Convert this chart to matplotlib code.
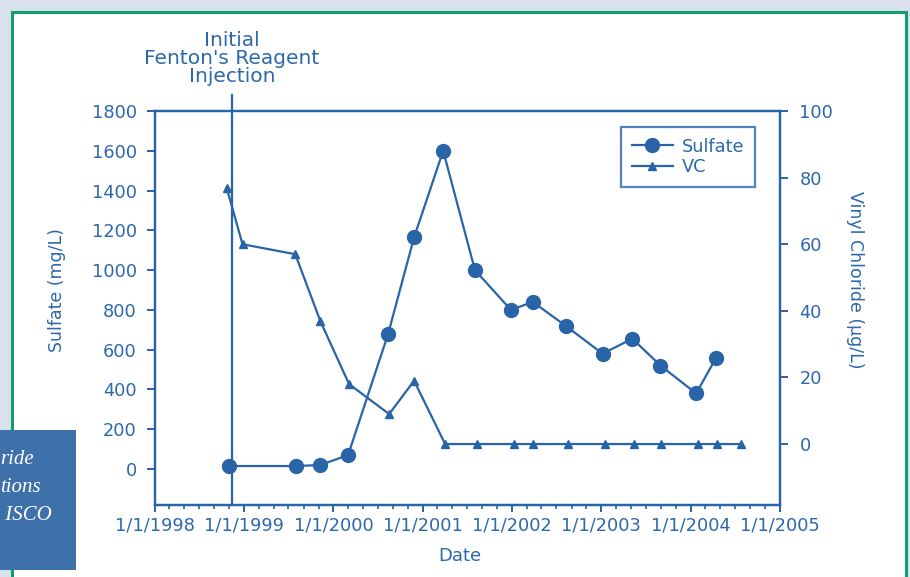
import pandas as pd
import matplotlib
matplotlib.use('Agg')
from matplotlib import pyplot as plt
import matplotlib.dates as mdates
from matplotlib.patches import Rectangle
from matplotlib.ticker import FuncFormatter
from matplotlib.lines import Line2D

# data
sulfate_dates = ['1998-10-29', '1999-08-02', '1999-11-08', '2000-03-01', '2000-08-12',
                 '2000-11-26', '2001-03-25', '2001-08-02', '2001-12-27', '2002-03-27',
                 '2002-08-08', '2003-01-06', '2003-05-08', '2003-08-31', '2004-01-24',
                 '2004-04-15']
sulfate = [15, 15, 20, 70, 680, 1165, 1600, 1000, 800, 840, 720, 580, 655, 520, 380, 560]

vc_dates = ['1998-10-21', '1998-12-25', '1999-07-29', '1999-11-08', '2000-03-05',
            '2000-08-16', '2000-11-26', '2001-04-02', '2001-08-10', '2002-01-08',
            '2002-03-27', '2002-08-16', '2003-01-14', '2003-05-16', '2003-09-04',
            '2004-02-01', '2004-04-19', '2004-07-26']
vc = [77, 60, 57, 37, 18, 9, 19, 0, 0, 0, 0, 0, 0, 0, 0, 0, 0, 0]

injection_date = '1998-11-10'
injection_text = ['Initial', "Fenton's Reagent", 'Injection']
sidebar_text = ['ride', 'tions', ' ISCO']

blue = '#2964a8'
txt = '#2d68ad'
plt.rcParams['font.family'] = ['DejaVu Sans']

fig = plt.figure(figsize=(9.1, 5.77), dpi=100)
fig.patch.set_facecolor('#dae1ed')
fig.patches.append(Rectangle((12/910, -0.02), (906-12)/910, 1-12/577+0.02,
                             transform=fig.transFigure, facecolor='white',
                             edgecolor='#119f6d', linewidth=2.2, zorder=-2))
fig.patches.append(Rectangle((-0.01, 1-570/577), 76/910+0.01, 140/577,
                             transform=fig.transFigure, facecolor='#3e71aa',
                             edgecolor='none', zorder=-1))
for i, s in enumerate(sidebar_text):
    fig.text(0/910, 1-(460+28*i)/577, s, color='white', fontsize=15, style='italic',
             family='Liberation Serif', va='center', ha='left', zorder=2)

ax = fig.add_axes([155/910, 1-505/577, (780-155)/910, (505-111)/577])
ax2 = ax.twinx()

sd = pd.to_datetime(sulfate_dates)
vd = pd.to_datetime(vc_dates)
ax.plot(sd, sulfate, color=blue, lw=1.6, marker='o', ms=10, label='Sulfate')
ax2.plot(vd, vc, color=blue, lw=1.6, marker='^', ms=6, label='VC')

ax.set_xlim(pd.Timestamp('1998-01-01'), pd.Timestamp('2005-01-01'))
ax.set_ylim(-181, 1800)
ax2.set_ylim(-18.3, 100)
ax.set_yticks(range(0, 1801, 200))
ax2.set_yticks(range(0, 101, 20))

ax.xaxis.set_major_locator(mdates.YearLocator())
ax.xaxis.set_minor_locator(mdates.MonthLocator(bymonth=[3, 5, 7, 9, 11]))
ax.xaxis.set_major_formatter(FuncFormatter(
    lambda v, p: '%d/%d/%d' % (mdates.num2date(v).month, mdates.num2date(v).day, mdates.num2date(v).year)))

for a in (ax, ax2):
    for sp in a.spines.values():
        sp.set_color(blue)
        sp.set_linewidth(1.6)
ax.tick_params(axis='x', which='major', length=5, width=1.4, color=blue, labelcolor=txt,
               labelsize=12.8, pad=3)
ax.tick_params(axis='x', which='minor', length=3, width=1.2, color=blue)
ax.tick_params(axis='y', length=6, width=1.4, color=blue, labelcolor=txt, labelsize=12.8, pad=7)
ax2.tick_params(axis='y', length=6, width=1.4, color=blue, labelcolor=txt, labelsize=12.8, pad=8)

ax.set_ylabel('Sulfate (mg/L)', color=txt, fontsize=12.5)
ax.yaxis.set_label_coords(-0.142, 0.546)
ax2.set_ylabel('Vinyl Chloride (µg/L)', color=txt, fontsize=12.5, rotation=270, va='center')
ax2.yaxis.set_label_coords(1.12, 0.571)
ax.set_xlabel('Date', color=txt, fontsize=13)
ax.xaxis.set_label_coords(0.488, -0.107)

# injection marker line, running a little above the frame
inj = mdates.date2num(pd.Timestamp(injection_date))
ax.plot([inj, inj], [0, 1 + 16/394], color=blue, lw=1.6,
        transform=ax.get_xaxis_transform(), clip_on=False)
for i, s in enumerate(injection_text):
    fig.text(232/910, 1-(40+18*i)/577, s, color=txt, fontsize=14.5, ha='center', va='center')

handles = [Line2D([], [], color=blue, lw=1.6, marker='o', ms=10),
           Line2D([], [], color=blue, lw=1.6, marker='^', ms=6)]
leg = ax2.legend(handles, ['Sulfate', 'VC'], loc='upper left',
                 bbox_to_anchor=((621-155)/625, (505-127)/394), fontsize=12.8,
                 frameon=True, fancybox=False, handlelength=2.3, handletextpad=0.5,
                 labelspacing=0.15, borderpad=0.6, borderaxespad=0)
for t in leg.get_texts():
    t.set_color(txt)
leg.get_frame().set_edgecolor(blue)
leg.get_frame().set_linewidth(1.6)

fig.savefig('out.png', dpi=100, facecolor=fig.get_facecolor())
